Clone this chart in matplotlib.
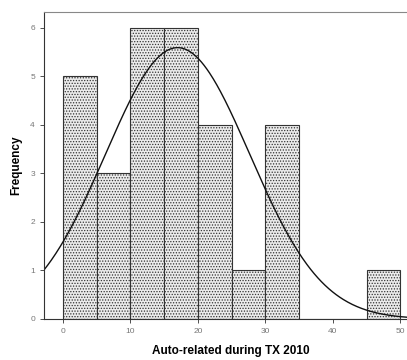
import numpy as np
import matplotlib
matplotlib.use("Agg")
import matplotlib.pyplot as plt

bin_edges = [0, 5, 10, 15, 20, 25, 30, 35, 40, 45, 50]
counts = [5, 3, 6, 6, 4, 1, 4, 0, 0, 1]
curve_mean = 17.0
curve_sd = 10.7
x_ticks = [0, 10, 20, 30, 40, 50]
y_ticks = [0, 1, 2, 3, 4, 5, 6]

plt.rcParams['font.family'] = ['Liberation Sans', 'DejaVu Sans']
plt.rcParams['hatch.linewidth'] = 0.6
plt.rcParams['hatch.color'] = '#666666'

fig = plt.figure(figsize=(4.07, 3.6), dpi=100)
ax = fig.add_axes([0.108, 0.114, 0.892, 0.853])

lefts = bin_edges[:-1]
widths = np.diff(bin_edges)
ax.bar(lefts, counts, width=widths, align='edge', facecolor='#ebebeb',
       edgecolor='#333333', linewidth=0.8, hatch='......')

n = sum(counts)
bw = widths[0]
xs = np.linspace(-2.8, 51, 400)
ys = n * bw / (curve_sd * np.sqrt(2 * np.pi)) * np.exp(-0.5 * ((xs - curve_mean) / curve_sd) ** 2)
ax.plot(xs, ys, color='#111111', linewidth=1.0)

ax.set_xlim(-2.8, 51)
ax.set_ylim(0, 6.33)
ax.set_xticks(x_ticks)
ax.set_yticks(y_ticks)
ax.tick_params(labelsize=6, colors='#333333', length=3, width=0.6)
for lab in ax.get_xticklabels() + ax.get_yticklabels():
    lab.set_color('#777777')
ax.spines['right'].set_visible(False)
ax.spines['top'].set_color('#888888')
ax.spines['left'].set_color('#333333')
ax.spines['bottom'].set_color('#333333')
ax.set_xlabel('Auto-related during TX 2010', fontsize=8.5, fontweight='bold')
ax.set_ylabel('Frequency', fontsize=8.5, fontweight='bold', labelpad=6)
ax.xaxis.set_label_coords(0.515, -0.085)

fig.savefig('out.png', dpi=100)
